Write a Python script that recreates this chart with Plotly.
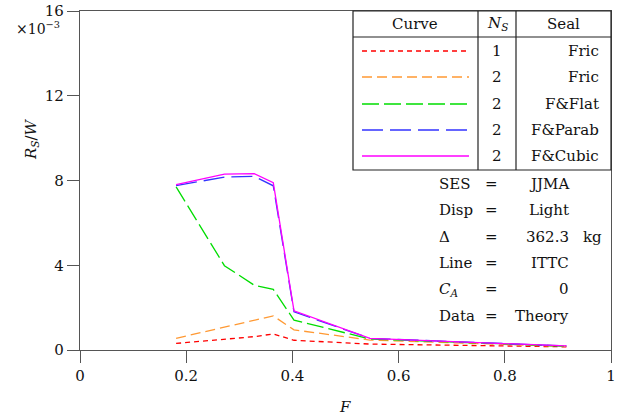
import plotly.graph_objects as go

# Froude number samples shared by every curve
froude = [0.181, 0.272, 0.328, 0.364, 0.403, 0.546, 0.916]

# Seal resistance ratio R_S/W, in units of 1e-3
rs_fric_1 = [0.31, 0.49, 0.63, 0.76, 0.46, 0.28, 0.15]
rs_fric_2 = [0.55, 1.08, 1.40, 1.61, 0.95, 0.47, 0.17]
rs_flat_2 = [7.70, 3.98, 3.06, 2.86, 1.41, 0.52, 0.18]
rs_parab_2 = [7.76, 8.16, 8.20, 7.75, 1.80, 0.55, 0.19]
rs_cubic_2 = [7.80, 8.30, 8.32, 7.90, 1.85, 0.55, 0.19]

series_values = [rs_fric_1, rs_fric_2, rs_flat_2, rs_parab_2, rs_cubic_2]
seal_counts = ["1", "2", "2", "2", "2"]
seal_types = ["Fric", "Fric", "F&Flat", "F&Parab", "F&Cubic"]
colors = ["#ff0000", "#ff9933", "#00dd00", "#3333ff", "#ff00ff"]
dashes = ["5px,4px", "10px,5px", "17px,5px", "21px,7px", "solid"]

y_ticks = [0, 4, 8, 12, 16]
x_ticks = [0, 0.2, 0.4, 0.6, 0.8, 1]
x_ticklabels = ["0", "0.2", "0.4", "0.6", "0.8", "1"]

info_labels = ["SES", "Disp", "Δ", "Line", "<i>C</i><sub><i>A</i></sub>", "Data"]
info_values = ["JJMA", "Light", "362.3", "ITTC", "0", "Theory"]

W, H = 621, 419
ML, MR, MT, MB = 80, 10, 11, 69
PW, PH = W - ML - MR, H - MT - MB
FONT = "DejaVu Serif"


def px(x):
    return (x - ML) / PW


def py(y):
    return (H - MB - y) / PH


fig = go.Figure()
for vals, col, dash in zip(series_values, colors, dashes):
    fig.add_trace(go.Scatter(x=froude, y=vals, mode="lines",
                             line=dict(color=col, width=1.3, dash=dash),
                             showlegend=False))

shapes = []
annotations = []


def hline(x0, x1, y, color="#222", width=1.2, dash="solid"):
    shapes.append(dict(type="line", xref="paper", yref="paper",
                       x0=px(x0), x1=px(x1), y0=py(y), y1=py(y),
                       line=dict(color=color, width=width, dash=dash)))


def vline(x, y0, y1, color="#222", width=1.2):
    shapes.append(dict(type="line", xref="paper", yref="paper",
                       x0=px(x), x1=px(x), y0=py(y0), y1=py(y1),
                       line=dict(color=color, width=width)))


def text(s, x, y, anchor="center", size=15):
    annotations.append(dict(text=s, xref="paper", yref="paper",
                            x=px(x), y=py(y), xanchor=anchor, yanchor="middle",
                            showarrow=False, font=dict(family=FONT, size=size, color="#111")))


# Legend table
shapes.append(dict(type="rect", xref="paper", yref="paper",
                   x0=px(353), x1=px(611), y0=py(170), y1=py(11),
                   fillcolor="white", line=dict(color="#222", width=1.2)))
hline(353, 611, 37)
vline(478, 11, 170)
vline(516, 11, 170)
text("Curve", 415, 24)
text("<i>N</i><sub><i>S</i></sub>", 497, 24)
text("Seal", 563, 24)
row_y = [51, 77, 104, 130, 156]
for ry, col, dash, ns, seal in zip(row_y, colors, dashes, seal_counts, seal_types):
    hline(362, 469, ry, color=col, width=1.3, dash=dash)
    text(ns, 497, ry)
    text(seal, 601, ry, anchor="right")

# Run-condition block
info_y = [184, 210, 237, 263, 289, 316]
for iy, lab, val in zip(info_y, info_labels, info_values):
    text(lab, 437, iy, anchor="left")
    text("=", 491, iy)
    text(val, 571, iy, anchor="right")
text("kg", 581, info_y[2], anchor="left")

# Axis titles and exponent
annotations.append(dict(text="<i>R</i><sub><i>S</i></sub>/<i>W</i>", xref="paper", yref="paper",
                        x=px(31), y=py(139), textangle=-90, showarrow=False,
                        xanchor="center", yanchor="middle",
                        font=dict(family=FONT, size=15, color="#111")))
text("×10<sup>−3</sup>", 62, 28, anchor="right", size=14)
text("<i>F</i>", 345, 407)

for s in shapes:
    s["layer"] = "above"

axis_common = dict(showgrid=False, zeroline=False, showline=True, linecolor="#555",
                   linewidth=1.3, mirror=True, ticks="outside", ticklen=12,
                   tickwidth=1.2, tickcolor="#555", automargin=False,
                   tickfont=dict(family=FONT, size=15, color="#111"))

fig.update_layout(
    width=W, height=H,
    margin=dict(l=ML, r=MR, t=MT, b=MB, autoexpand=False),
    paper_bgcolor="white", plot_bgcolor="white",
    xaxis=dict(range=[0, 1], tickvals=x_ticks, ticktext=x_ticklabels, **axis_common),
    yaxis=dict(range=[0, 16], tickvals=y_ticks, **axis_common),
    shapes=shapes, annotations=annotations,
)

fig.write_html("out.html")
